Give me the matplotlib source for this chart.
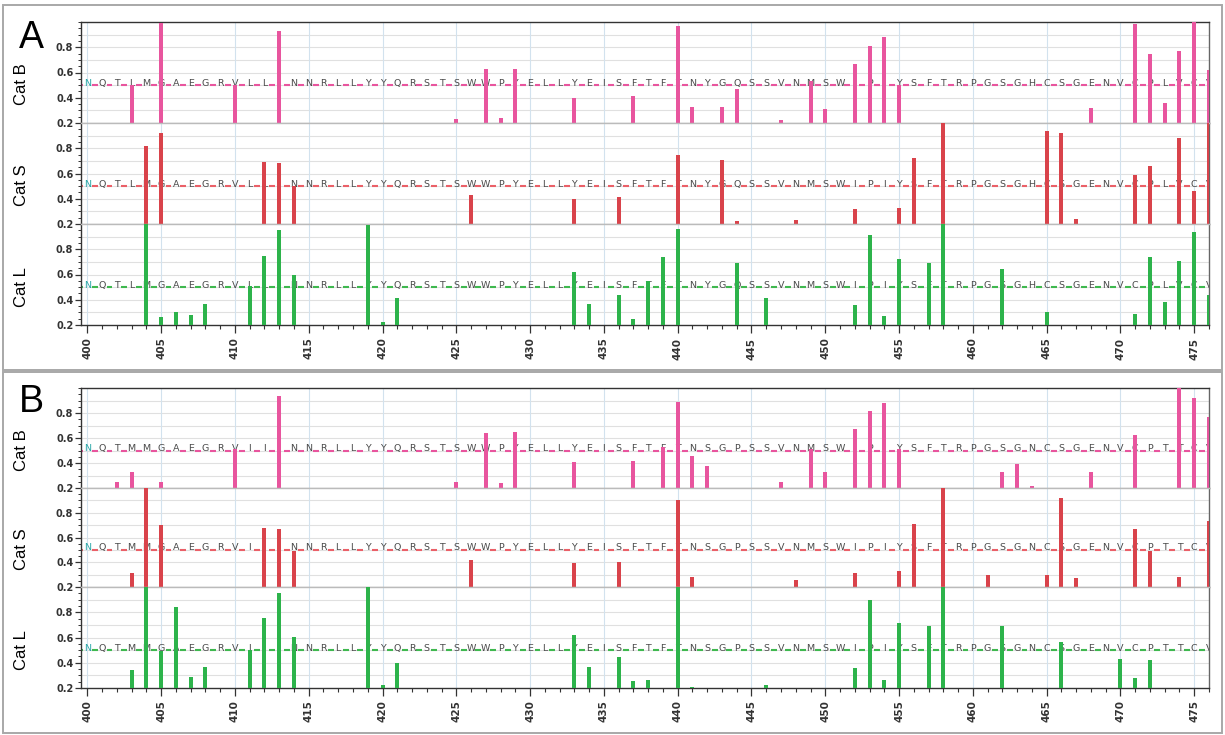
import matplotlib
matplotlib.use('Agg')
import matplotlib.pyplot as plt
from matplotlib.patches import Rectangle
from matplotlib.ticker import MultipleLocator, FixedLocator

# ---------------- data ----------------
positions = list(range(400, 477))
x_ticks = list(range(400, 476, 5))
y_ticks = [0.2, 0.4, 0.6, 0.8]
series_names = ["Cat B", "Cat S", "Cat L"]

seq_A = "NQTLMGAEGRVLLINNRLLYYQRSTSWWPYELLYEISFTFTNYGQSSVNMSWIPIYSFTRPGSGHCSGENVCPLVCV"
seq_B = "NQTMMGAEGRVIIINNRLLYYQRSTSWWPYELLYEISFTFTNSGPSSVNMSWIPIYSFTRPGSGNCSGENVCPTTCV"

# Panel A
A_catB_pos = [403, 405, 410, 413, 425, 427, 428, 429, 433, 437, 440, 441, 443, 444, 447, 449,
              450, 452, 453, 454, 455, 468, 471, 472, 473, 474, 475, 476]
A_catB_val = [0.50, 0.99, 0.50, 0.93, 0.235, 0.63, 0.24, 0.63, 0.40, 0.41, 0.97, 0.33, 0.33, 0.47, 0.225, 0.53,
              0.31, 0.67, 0.81, 0.88, 0.50, 0.32, 0.985, 0.75, 0.36, 0.77, 1.0, 0.62]

A_catS_pos = [404, 405, 412, 413, 414, 426, 433, 436, 440, 443, 444, 448,
              452, 455, 456, 458, 465, 466, 467, 471, 472, 474, 475, 476]
A_catS_val = [0.82, 0.92, 0.69, 0.68, 0.50, 0.43, 0.40, 0.41, 0.75, 0.71, 0.22, 0.235,
              0.32, 0.33, 0.72, 1.0, 0.935, 0.92, 0.24, 0.585, 0.66, 0.88, 0.46, 1.0]

A_catL_pos = [404, 405, 406, 407, 408, 411, 412, 413, 414, 419, 420, 421,
              433, 434, 436, 437, 438, 439, 440, 444, 446,
              452, 453, 454, 455, 457, 458, 462, 465, 471, 472, 473, 474, 475, 476]
A_catL_val = [1.0, 0.26, 0.30, 0.28, 0.37, 0.505, 0.75, 0.95, 0.60, 0.99, 0.22, 0.41,
              0.62, 0.37, 0.44, 0.25, 0.55, 0.735, 0.96, 0.69, 0.41,
              0.36, 0.91, 0.27, 0.72, 0.69, 1.0, 0.645, 0.30, 0.29, 0.735, 0.385, 0.71, 0.935, 0.44]

# Panel B
B_catB_pos = [402, 403, 405, 410, 413, 425, 427, 428, 429, 433, 437, 439, 440, 441, 442, 447, 449,
              450, 452, 453, 454, 455, 462, 463, 464, 468, 471, 474, 475, 476]
B_catB_val = [0.25, 0.325, 0.25, 0.51, 0.94, 0.25, 0.64, 0.24, 0.645, 0.41, 0.42, 0.53, 0.89, 0.46, 0.38, 0.25, 0.51,
              0.33, 0.67, 0.82, 0.88, 0.51, 0.325, 0.39, 0.22, 0.325, 0.625, 1.0, 0.92, 0.77]

B_catS_pos = [403, 404, 405, 412, 413, 414, 426, 433, 436, 440, 441, 448,
              452, 455, 456, 458, 461, 465, 466, 467, 471, 472, 474, 476]
B_catS_val = [0.31, 1.0, 0.70, 0.675, 0.665, 0.49, 0.42, 0.39, 0.405, 0.90, 0.28, 0.255,
              0.31, 0.33, 0.71, 1.0, 0.30, 0.30, 0.92, 0.27, 0.665, 0.49, 0.28, 0.735]

B_catL_pos = [403, 404, 405, 406, 407, 408, 411, 412, 413, 414, 419, 420, 421,
              433, 434, 436, 437, 438, 440, 441, 446,
              452, 453, 454, 455, 457, 458, 462, 466, 470, 471, 472]
B_catL_val = [0.34, 1.0, 0.49, 0.84, 0.285, 0.37, 0.50, 0.755, 0.95, 0.605, 1.0, 0.22, 0.395,
              0.62, 0.37, 0.445, 0.255, 0.265, 1.0, 0.21, 0.22,
              0.36, 0.90, 0.26, 0.715, 0.69, 1.0, 0.69, 0.565, 0.43, 0.28, 0.42]

# ---------------- styling ----------------
bar_colors = ["#e8559e", "#d9434b", "#2db34b"]
dash_colors = ["#e8559e", "#ea6068", "#3fb84f"]

W, H = 1225, 735
fig = plt.figure(figsize=(W / 100, H / 100), dpi=100)
fig.patch.set_facecolor("white")

# outer frames
for (y0, y1) in [(5, 370), (372, 733)]:
    fig.patches.append(Rectangle((3 / W, 1 - y1 / H), (1222 - 3) / W, (y1 - y0) / H,
                                 transform=fig.transFigure, fill=False,
                                 edgecolor="#a8a8a8", linewidth=1.4))

left_px, right_px = 81, 1209
panels = [
    ("A", seq_A, [(22, 123), (123, 224), (224, 325)],
     [(A_catB_pos, A_catB_val), (A_catS_pos, A_catS_val), (A_catL_pos, A_catL_val)], (31, 38)),
    ("B", seq_B, [(388, 488), (488, 587), (587, 688)],
     [(B_catB_pos, B_catB_val), (B_catS_pos, B_catS_val), (B_catL_pos, B_catL_val)], (31, 402)),
]

for letter, seq, rows, data, lpos in panels:
    fig.text(lpos[0] / W, 1 - lpos[1] / H, letter, fontsize=27, family="Liberation Sans",
             ha="center", va="center", color="black")
    for i, ((top, bot), (pos, val)) in enumerate(zip(rows, data)):
        ax = fig.add_axes([left_px / W, 1 - bot / H, (right_px - left_px) / W, (bot - top) / H])
        ax.set_xlim(399.57, 476)
        ax.set_ylim(0.2, 1.0)
        ax.set_facecolor("white")
        # grid
        for gy in [0.3, 0.4, 0.5, 0.6, 0.7, 0.8, 0.9]:
            ax.axhline(gy, color="#e0e0e0", lw=0.8, zorder=0)
        for gx in x_ticks:
            ax.axvline(gx, color="#d2e2ee", lw=0.8, zorder=0)
        # dashed 0.5 line between residues
        ax.hlines([0.5] * (len(positions) + 1),
                  [p - 0.7 for p in positions] + [positions[-1] + 0.3],
                  [p - 0.3 for p in positions] + [positions[-1] + 0.7],
                  color=dash_colors[i], lw=1.5, zorder=1)
        # residue letters
        for j, (p, ch) in enumerate(zip(positions, seq)):
            ax.text(p, 0.497, ch, ha="center", va="baseline", fontsize=6.8,
                    color="#2aa7a7" if j == 0 else "#4a4a4a", zorder=2, clip_on=True)
        # bars
        ax.bar(pos, [v - 0.2 for v in val], bottom=0.2, width=0.27,
               color=bar_colors[i], zorder=3, linewidth=0)
        # ticks
        ax.yaxis.set_major_locator(FixedLocator(y_ticks))
        ax.yaxis.set_minor_locator(MultipleLocator(0.05))
        ax.set_yticklabels([f"{t:.1f}" for t in y_ticks], fontsize=7, fontweight="bold",
                           color="#333333")
        ax.tick_params(axis="y", which="major", length=4, width=0.9, color="#333333", pad=1.5)
        ax.tick_params(axis="y", which="minor", length=2, width=0.7, color="#333333")
        ax.set_ylabel(series_names[i], fontsize=12, family="Liberation Sans", color="black")
        ax.yaxis.set_label_coords(-0.046, 0.38)
        for s in ["left", "right", "top", "bottom"]:
            ax.spines[s].set_linewidth(1.0)
        ax.spines["left"].set_color("#333333")
        ax.spines["right"].set_color("#666666")
        ax.spines["top"].set_color("#333333" if i == 0 else "#bbbbbb")
        ax.spines["bottom"].set_color("#333333" if i == 2 else "#bbbbbb")
        if i == 2:
            ax.xaxis.set_major_locator(FixedLocator(x_ticks))
            ax.xaxis.set_minor_locator(MultipleLocator(1))
            ax.set_xticklabels([str(t) for t in x_ticks], rotation=90, fontsize=7.5,
                               fontweight="bold", color="#333333")
            ax.tick_params(axis="x", which="major", length=6, width=0.9, color="#333333", pad=3)
            ax.tick_params(axis="x", which="minor", length=3, width=0.8, color="#333333")
        else:
            ax.set_xticks([])
            ax.xaxis.set_minor_locator(FixedLocator([]))

fig.savefig("out.png", dpi=100)
